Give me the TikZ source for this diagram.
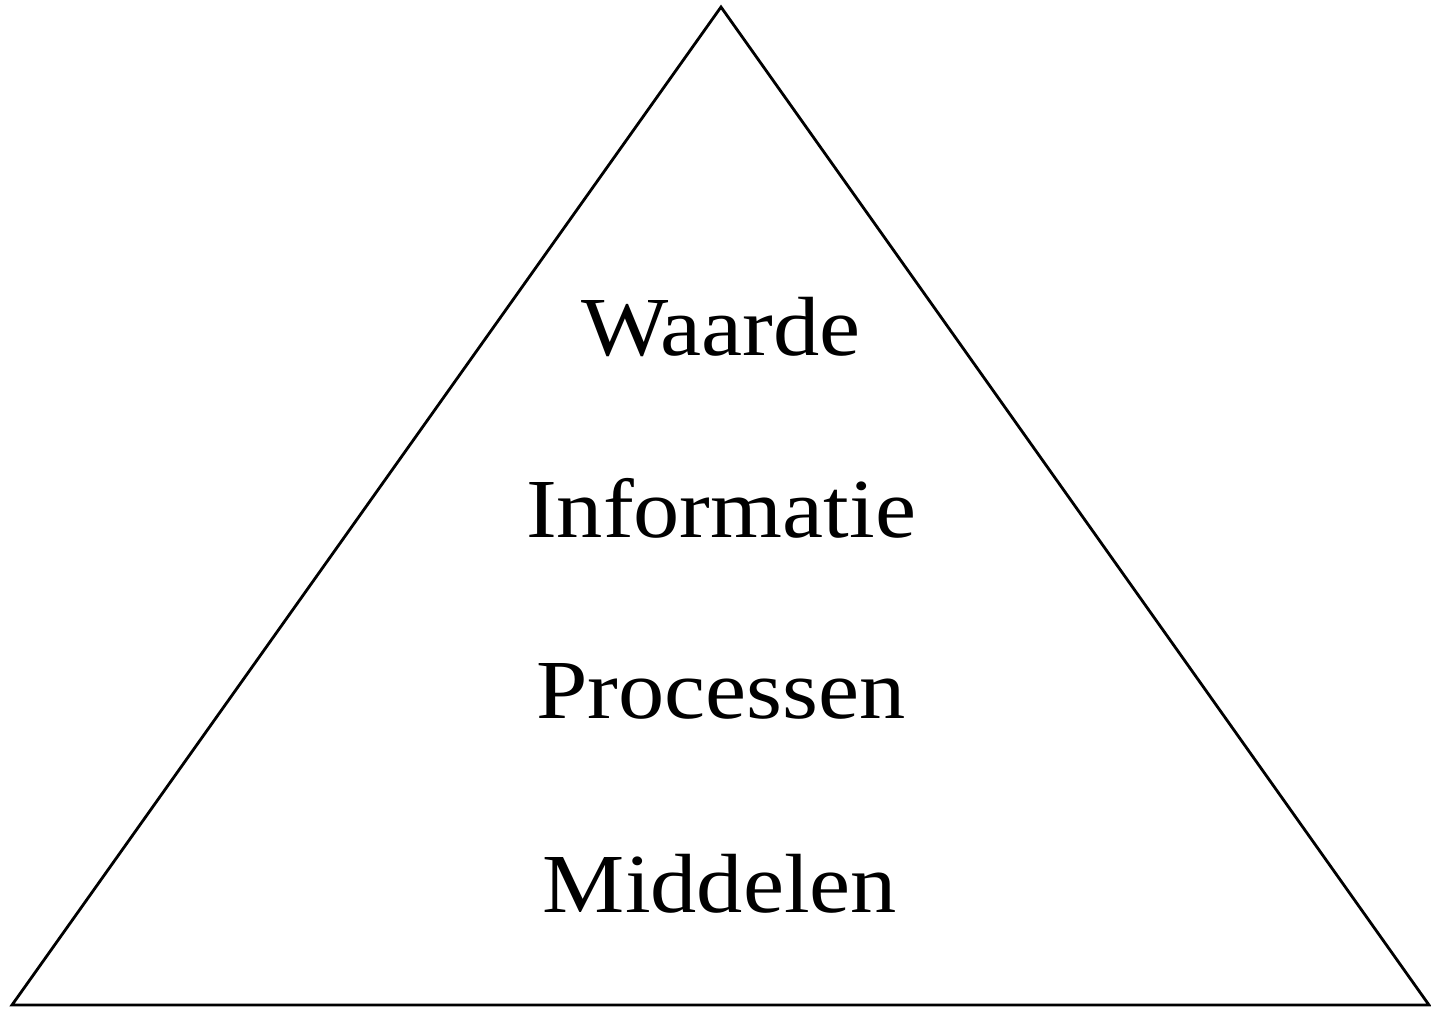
\documentclass[tikz,border=0pt]{standalone}
\usepackage{fontspec}
\setmainfont{Liberation Serif}[FakeStretch=1.1]
\begin{document}
\begin{tikzpicture}[x=0.5pt,y=-0.5pt,
  lbl/.style={anchor=base,inner sep=0pt,font=\fontsize{42}{42}\selectfont}]
\useasboundingbox (0,0) rectangle (1431,1008);
\coordinate (top) at (721,7);
\coordinate (bl) at (12,1005);
\coordinate (br) at (1429,1005);
\draw[line width=1.4pt,line join=miter] (top) -- (bl) -- (br) -- cycle;
\node[lbl] (w) at (721,355) {Waarde};
\node[lbl] (i) at (721,537) {Informatie};
\node[lbl] (p) at (721,718) {Processen};
\node[lbl] (m) at (720,912) {Middelen};
\end{tikzpicture}
\end{document}
